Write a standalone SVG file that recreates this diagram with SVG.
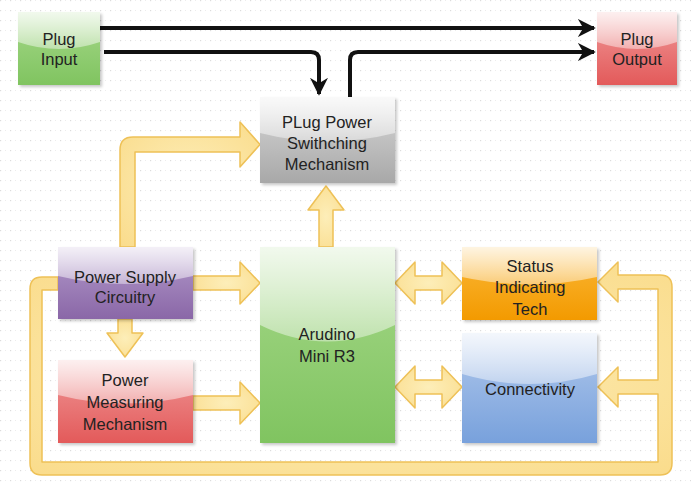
<svg xmlns="http://www.w3.org/2000/svg" width="691" height="483" viewBox="0 0 691 483">
<style>
.lbl{font-family:"Liberation Sans",Arial,sans-serif;font-size:16.5px;fill:#222;text-anchor:middle}
.blk{fill:none;stroke:#111;stroke-width:4;stroke-linejoin:round}
.ya{fill:url(#gy);stroke:#eec157;stroke-width:1.5;stroke-linejoin:round}
.gloss{fill:url(#gl)}
.sh{fill:#000;opacity:0.22;filter:url(#blur)}
</style>
<defs>
<pattern id="grid" width="10" height="10" patternUnits="userSpaceOnUse">
<rect x="0" y="0" width="1.2" height="1.2" fill="#dcdcdc"/>
<rect x="5" y="0" width="1" height="1" fill="#ececec"/>
</pattern>
<filter id="blur" x="-10%" y="-10%" width="130%" height="130%"><feGaussianBlur stdDeviation="1.5"/></filter>
<radialGradient id="gy" cx="0.5" cy="0.5" r="0.7">
<stop offset="0" stop-color="#fdeeb9"/>
<stop offset="1" stop-color="#fadc8c"/>
</radialGradient>
<linearGradient id="gl" x1="0" y1="0" x2="0" y2="1">
<stop offset="0" stop-color="#fff" stop-opacity="0.85"/>
<stop offset="1" stop-color="#fff" stop-opacity="0.4"/>
</linearGradient>
<linearGradient id="gGreen" x1="0" y1="0" x2="0" y2="1"><stop offset="0" stop-color="#a6d88a"/><stop offset="1" stop-color="#80c460"/></linearGradient>
<linearGradient id="gRed" x1="0" y1="0" x2="0" y2="1"><stop offset="0" stop-color="#f09a9a"/><stop offset="1" stop-color="#e35a5a"/></linearGradient>
<linearGradient id="gGray" x1="0" y1="0" x2="0" y2="1"><stop offset="0" stop-color="#d8d8d8"/><stop offset="1" stop-color="#a8a8a8"/></linearGradient>
<linearGradient id="gPurple" x1="0" y1="0" x2="0" y2="1"><stop offset="0" stop-color="#b39bcb"/><stop offset="1" stop-color="#8a67a7"/></linearGradient>
<linearGradient id="gOrange" x1="0" y1="0" x2="0" y2="1"><stop offset="0" stop-color="#fbb93a"/><stop offset="1" stop-color="#f39a00"/></linearGradient>
<linearGradient id="gBlue" x1="0" y1="0" x2="0" y2="1"><stop offset="0" stop-color="#b2c9ec"/><stop offset="1" stop-color="#78a1dc"/></linearGradient>
<marker id="ah" viewBox="0 0 10 10" refX="9" refY="5" markerWidth="4.5" markerHeight="4.5" markerUnits="strokeWidth" orient="auto">
<path d="M0,0 L10,5 L0,10 L3,5 Z" fill="#111"/>
</marker>
</defs>
<rect x="0" y="0" width="691" height="483" fill="#ffffff"/>
<rect x="0" y="0" width="691" height="483" fill="url(#grid)"/>

<g id="connectors">
<path class="blk" d="M97,28 H594" marker-end="url(#ah)"/>
<path class="blk" d="M104,52 H311 Q319,52 319,60 V94" marker-end="url(#ah)"/>
<path class="blk" d="M350,97 V60 Q350,52 358,52 H594" marker-end="url(#ah)"/>
<path class="ya" d="M120,247 V150 Q120,137 133,137 H240 V122 L260,144.5 L240,167 V152 H135 V247 Z"/>
<path class="ya" d="M319,247 V210 H308 L326,186 L344,210 H333 V247 Z"/>
<path class="ya" d="M193,276 H240 V262 L260,283 L240,304 V290 H193 Z"/>
<path class="ya" d="M193,396 H240 V382 L260,403 L240,424 V410 H193 Z"/>
<path class="ya" d="M118,319 V333 H107 L125,357 L143,333 H132 V319 Z"/>
<path class="ya" d="M395,283 L415,262 V276 H442 V262 L462,283 L442,304 V290 H415 V304 Z"/>
<path class="ya" d="M395,387 L415,366 V380 H442 V366 L462,387 L442,408 V394 H415 V408 Z"/>
<path class="ya" d="M58,277 H42 Q30,277 30,289 V463 Q30,475 42,475 H660 Q672,475 672,463 V287 Q672,275 660,275 H618 V262 L598,282 L618,302 V289 H658 V380 H618 V367 L598,387 L618,407 V394 H658 V462 H42 V290 H58 Z"/>
</g>

<g id="plug-input">
<rect class="sh" x="20" y="14" width="82" height="73"/>
<rect x="18" y="12" width="82" height="73" fill="url(#gGreen)"/>
<path class="gloss" d="M18,12 H100 V42 Q59,56 18,42 Z"/>
<text class="lbl" x="59" y="45">Plug</text>
<text class="lbl" x="59" y="65">Input</text>
</g>

<g id="plug-output">
<rect class="sh" x="599" y="14" width="80" height="73"/>
<rect x="597" y="12" width="80" height="73" fill="url(#gRed)"/>
<path class="gloss" d="M597,12 H677 V42 Q637,56 597,42 Z"/>
<text class="lbl" x="637" y="45">Plug</text>
<text class="lbl" x="637" y="65">Output</text>
</g>

<g id="switching">
<rect class="sh" x="262" y="99" width="135" height="86"/>
<rect x="260" y="97" width="135" height="86" fill="url(#gGray)"/>
<path class="gloss" d="M260,97 H395 V133 Q327,150 260,133 Z"/>
<text class="lbl" x="327" y="128">PLug Power</text>
<text class="lbl" x="327" y="149">Swithching</text>
<text class="lbl" x="327" y="170">Mechanism</text>
</g>

<g id="power-supply">
<rect class="sh" x="60" y="249" width="135" height="72"/>
<rect x="58" y="247" width="135" height="72" fill="url(#gPurple)"/>
<path class="gloss" d="M58,247 H193 V276 Q125,292 58,276 Z"/>
<text class="lbl" x="125" y="283">Power Supply</text>
<text class="lbl" x="125" y="303">Circuitry</text>
</g>

<g id="power-measuring">
<rect class="sh" x="60" y="362" width="135" height="83"/>
<rect x="58" y="360" width="135" height="83" fill="url(#gRed)"/>
<path class="gloss" d="M58,360 H193 V395 Q125,412 58,395 Z"/>
<text class="lbl" x="125" y="386">Power</text>
<text class="lbl" x="125" y="408">Measuring</text>
<text class="lbl" x="125" y="430">Mechanism</text>
</g>

<g id="arduino">
<rect class="sh" x="262" y="249" width="135" height="196"/>
<rect x="260" y="247" width="135" height="196" fill="url(#gGreen)"/>
<path class="gloss" d="M260,247 H395 V325 Q327,358 260,325 Z"/>
<text class="lbl" x="327" y="340">Arudino</text>
<text class="lbl" x="327" y="362">Mini R3</text>
</g>

<g id="status">
<rect class="sh" x="464" y="249" width="135" height="73"/>
<rect x="462" y="247" width="135" height="73" fill="url(#gOrange)"/>
<path class="gloss" d="M462,247 H597 V277 Q530,292 462,277 Z"/>
<text class="lbl" x="530" y="272">Status</text>
<text class="lbl" x="530" y="293">Indicating</text>
<text class="lbl" x="530" y="315">Tech</text>
</g>

<g id="connectivity">
<rect class="sh" x="464" y="335" width="135" height="110"/>
<rect x="462" y="333" width="135" height="110" fill="url(#gBlue)"/>
<path class="gloss" d="M462,333 H597 V374 Q530,394 462,374 Z"/>
<text class="lbl" x="530" y="395">Connectivity</text>
</g>
</svg>
